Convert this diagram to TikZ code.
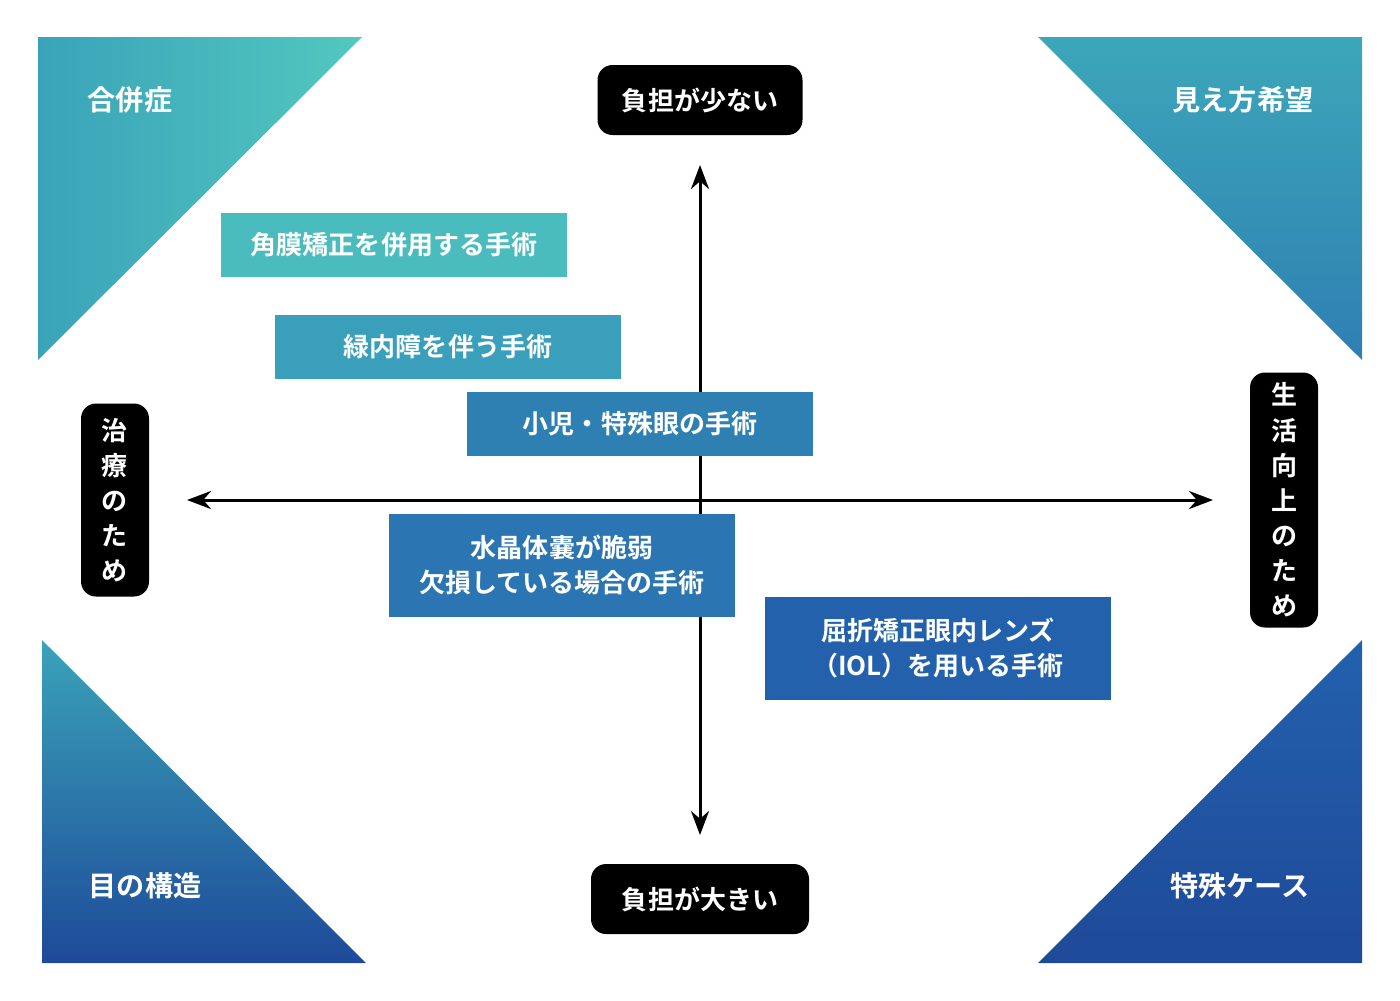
\documentclass[tikz,border=0pt]{standalone}
\usepackage{fontspec}
\setmainfont{Noto Sans CJK JP}[BoldFont={* Bold}]
\usetikzlibrary{arrows.meta}
\definecolor{tealA}{HTML}{52C8BF}
\definecolor{tealB}{HTML}{3AA3B9}
\definecolor{blueA}{HTML}{2F7FB2}
\definecolor{blueB}{HTML}{1E4A99}
\definecolor{boxA}{HTML}{4BBCBE}
\definecolor{boxB}{HTML}{3A9FBB}
\definecolor{boxC}{HTML}{2E80B3}
\definecolor{boxD}{HTML}{2B76B2}
\definecolor{boxE}{HTML}{2361AD}
\tikzset{every node/.style={align=center}, >=Stealth,
  font=\fontsize{7.4}{10}\selectfont\bfseries}
\tikzset{corner/.style={text=white, font=\fontsize{8}{10}\selectfont\bfseries},
  pole/.style={fill=black, text=white, rounded corners=1.5mm, inner sep=0pt},
  item/.style={text=white, minimum width=34.6mm, inner sep=0pt}}
\begin{document}
\begin{tikzpicture}[x=0.1mm,y=-0.1mm]
\useasboundingbox (0,0) rectangle (1400,1000);
% corners
\shade[left color=tealB, right color=tealA] (38,37) -- (362,37) -- (38,360) -- cycle;
\shade[top color=tealB!90!tealA, bottom color=blueA] (1038,37) -- (1362,37) -- (1362,360) -- cycle;
\shade[top color=tealB, bottom color=blueB, shading angle=0] (42,640) -- (42,963) -- (366,963) -- cycle;
\shade[top color=boxE, bottom color=blueB] (1362,640) -- (1362,963) -- (1038,963) -- cycle;
\node [corner] (c1) at (130,100) {合併症};
\node [corner] (c2) at (1243,100) {見え方希望};
\node [corner] (c3) at (145,886) {目の構造};
\node [corner] (c4) at (1240,886) {特殊ケース};
% axes
\node [pole, minimum width=20.5mm, minimum height=7mm] (up) at (700,100) {負担が少ない};
\node [pole, minimum width=21.8mm, minimum height=7mm] (down) at (700,899) {負担が大きい};
\node [pole, minimum width=6.8mm, minimum height=19.3mm] (left) at (115,500) {治\\療\\の\\た\\め};
\node [pole, minimum width=6.8mm, minimum height=25.5mm] (right) at (1284,500) {生\\活\\向\\上\\の\\た\\め};
\coordinate (ytop) at (700,165);
\coordinate (ybot) at (700,835);
\coordinate (xl) at (187,500);
\coordinate (xr) at (1213,500);
\draw [<->, line width=0.3mm] (ytop) -- (ybot);
\draw [<->, line width=0.3mm] (xl) -- (xr);
% items
\node [item, fill=boxA, minimum height=6.4mm] (i1) at (394,245) {角膜矯正を併用する手術};
\node [item, fill=boxB, minimum height=6.4mm] (i2) at (448,347) {緑内障を伴う手術};
\node [item, fill=boxC, minimum height=6.4mm] (i3) at (640,424) {小児・特殊眼の手術};
\node [item, fill=boxD, minimum height=10.3mm] (i4) at (562,565) {水晶体嚢が脆弱\\欠損している場合の手術};
\node [item, fill=boxE, minimum height=10.3mm] (i5) at (938,648) {屈折矯正眼内レンズ\\（IOL）を用いる手術};
\end{tikzpicture}
\end{document}
